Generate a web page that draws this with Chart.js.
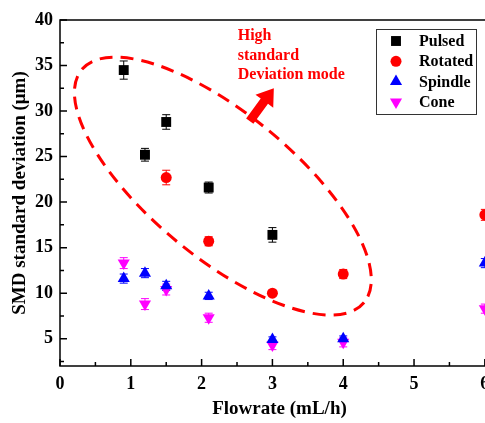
<!DOCTYPE html>
<html>
<head>
<meta charset="utf-8">
<script src="https://cdn.jsdelivr.net/npm/chart.js@4.4.0/dist/chart.umd.min.js"></script>
<style>
html, body { margin: 0; padding: 0; background: #fff; overflow: hidden; }
#wrap { position: relative; width: 510px; height: 423px; }
</style>
</head>
<body>
<div id="wrap"><canvas id="myChart"></canvas></div>
<script>
const serif = '"Liberation Serif", "Times New Roman", serif';

// data
const pulsedX = [0.9, 1.2, 1.5, 2.1, 3];
const pulsedY = [34.5, 25.2, 28.8, 21.6, 16.4];
const pulsedErr = [1.0, 0.7, 0.8, 0.6, 0.8];

const rotatedX = [1.5, 2.1, 3, 4, 6];
const rotatedY = [22.7, 15.7, 10.0, 12.1, 18.6];
const rotatedErr = [0.8, 0.5, 0.3, 0.5, 0.6];

const spindleX = [0.9, 1.2, 1.5, 2.1, 3, 4, 6];
const spindleY = [11.6, 12.2, 10.8, 9.7, 4.9, 5.0, 13.3];
const spindleErr = [0.5, 0.5, 0.5, 0.4, 0.3, 0.3, 0.5];

const coneX = [0.9, 1.2, 1.5, 2.1, 3, 4, 6];
const coneY = [13.3, 8.8, 10.4, 7.3, 4.3, 4.6, 8.3];
const coneErr = [0.6, 0.6, 0.6, 0.5, 0.5, 0.5, 0.5];

const xTickVals = [0, 0.5, 1, 1.5, 2, 2.5, 3, 3.5, 4, 4.5, 5, 5.5, 6];
const yTickVals = [2.5, 5, 7.5, 10, 12.5, 15, 17.5, 20, 22.5, 25, 27.5, 30, 32.5, 35, 37.5, 40];

const noteLines = ['High', 'standard', 'Deviation mode'];

function pts(xs, ys) {
    return xs.map((x, i) => ({ x: x, y: ys[i] }));
}

const decor = {
    id: 'decor',
    beforeDatasetsDraw(chart) {
        const ctx = chart.ctx;
        const xs = chart.scales.x, ys = chart.scales.y;
        ctx.save();
        // dashed ellipse
        ctx.strokeStyle = '#ff0000';
        ctx.lineWidth = 3;
        ctx.setLineDash([13, 8]);
        ctx.beginPath();
        ctx.ellipse(xs.getPixelForValue(2.30), ys.getPixelForValue(21.76), 183, 72, 39.5 * Math.PI / 180, 0, Math.PI * 2);
        ctx.stroke();
        ctx.setLineDash([]);

        // arrow
        const tx = xs.getPixelForValue(2.68), ty = ys.getPixelForValue(28.9);
        const hx = xs.getPixelForValue(3.02), hy = ys.getPixelForValue(32.5);
        const ang = Math.atan2(hy - ty, hx - tx);
        const len = Math.hypot(hx - tx, hy - ty);
        ctx.translate(tx, ty);
        ctx.rotate(ang);
        ctx.fillStyle = '#ff0000';
        ctx.beginPath();
        ctx.moveTo(0, -4.5);
        ctx.lineTo(len - 16, -4.5);
        ctx.lineTo(len - 16, -11);
        ctx.lineTo(len, 0);
        ctx.lineTo(len - 16, 11);
        ctx.lineTo(len - 16, 4.5);
        ctx.lineTo(0, 4.5);
        ctx.closePath();
        ctx.fill();
        ctx.setTransform(1, 0, 0, 1, 0, 0);

        // note text
        ctx.font = 'bold 16px ' + serif;
        ctx.fillStyle = '#ff0000';
        ctx.textAlign = 'left';
        ctx.textBaseline = 'alphabetic';
        const nx = xs.getPixelForValue(2.51);
        noteLines.forEach((t, i) => ctx.fillText(t, nx, 40 + i * 19.5));

        // error bars
        chart.data.datasets.forEach((ds, di) => {
            const meta = chart.getDatasetMeta(di);
            ctx.strokeStyle = ds.borderColor;
            ctx.lineWidth = 1;
            meta.data.forEach((el, i) => {
                const v = ds.data[i].y, e = ds.errors[i];
                const y1 = ys.getPixelForValue(v + e), y2 = ys.getPixelForValue(v - e);
                ctx.beginPath();
                ctx.moveTo(el.x, y1); ctx.lineTo(el.x, y2);
                ctx.moveTo(el.x - 4, y1); ctx.lineTo(el.x + 4, y1);
                ctx.moveTo(el.x - 4, y2); ctx.lineTo(el.x + 4, y2);
                ctx.stroke();
            });
        });
        ctx.restore();
    },
    afterDraw(chart) {
        const ctx = chart.ctx;
        const a = chart.chartArea;
        const xs = chart.scales.x, ys = chart.scales.y;
        ctx.save();
        // frame
        ctx.strokeStyle = '#000';
        ctx.lineWidth = 1.5;
        ctx.strokeRect(a.left, a.top, a.right - a.left, a.bottom - a.top);
        // inward ticks
        ctx.beginPath();
        xTickVals.forEach(v => {
            const px = xs.getPixelForValue(v);
            const l = Number.isInteger(v) ? 7 : 4;
            ctx.moveTo(px, a.bottom); ctx.lineTo(px, a.bottom - l);
        });
        yTickVals.forEach(v => {
            const py = ys.getPixelForValue(v);
            const l = v % 5 === 0 ? 7 : 4;
            ctx.moveTo(a.left, py); ctx.lineTo(a.left + l, py);
        });
        ctx.stroke();

        // legend
        const bx = 376, by = 29, bw = 100, bh = 85;
        ctx.lineWidth = 1;
        ctx.fillStyle = '#fff';
        ctx.fillRect(bx, by, bw, bh);
        ctx.strokeStyle = '#333';
        ctx.strokeRect(bx + 0.5, by + 0.5, bw, bh);
        ctx.font = 'bold 16px ' + serif;
        ctx.textBaseline = 'middle';
        ctx.textAlign = 'left';
        chart.data.datasets.forEach((ds, i) => {
            const yy = by + 12 + i * 20.3;
            ctx.fillStyle = ds.backgroundColor;
            ctx.strokeStyle = ds.borderColor;
            Chart.helpers.drawPoint(ctx, {
                pointStyle: ds.pointStyle,
                rotation: ds.pointRotation || 0,
                radius: ds.pointRadius,
                borderWidth: 0
            }, bx + 20, yy);
            ctx.fillStyle = '#000';
            ctx.fillText(ds.label, bx + 43, yy + 1);
        });
        ctx.restore();
    }
};

const ctx = document.getElementById('myChart').getContext('2d');
const myChart = new Chart(ctx, {
    type: 'scatter',
    data: {
        datasets: [{
            label: 'Pulsed',
            data: pts(pulsedX, pulsedY),
            errors: pulsedErr,
            pointStyle: 'rect',
            pointRadius: 7,
            backgroundColor: '#000000',
            borderColor: '#000000',
            borderWidth: 0
        }, {
            label: 'Rotated',
            data: pts(rotatedX, rotatedY),
            errors: rotatedErr,
            pointStyle: 'circle',
            pointRadius: 5.5,
            backgroundColor: '#ff0000',
            borderColor: '#ff0000',
            borderWidth: 0
        }, {
            label: 'Spindle',
            data: pts(spindleX, spindleY),
            errors: spindleErr,
            pointStyle: 'triangle',
            pointRadius: 7,
            backgroundColor: '#0000ff',
            borderColor: '#0000ff',
            borderWidth: 0
        }, {
            label: 'Cone',
            data: pts(coneX, coneY),
            errors: coneErr,
            pointStyle: 'triangle',
            pointRotation: 180,
            pointRadius: 7,
            backgroundColor: '#ff00ff',
            borderColor: '#ff00ff',
            borderWidth: 0
        }]
    },
    options: {
        responsive: true,
        maintainAspectRatio: false,
        animation: false,
        layout: { padding: { top: 20, right: 11, bottom: 0, left: 0 } },
        plugins: {
            legend: { display: false },
            tooltip: { enabled: false }
        },
        scales: {
            x: {
                type: 'linear',
                min: 0,
                max: 6.2,
                afterBuildTicks: s => { s.ticks = xTickVals.map(v => ({ value: v })); },
                afterFit: s => { s.height = 57; },
                grid: { display: false },
                border: { display: false },
                ticks: {
                    color: '#000',
                    padding: 0,
                    maxRotation: 0,
                    autoSkip: false,
                    font: { family: serif, size: 18, weight: 'bold' },
                    callback: v => Number.isInteger(v) ? v : ''
                },
                title: {
                    display: true,
                    text: 'Flowrate (mL/h)',
                    color: '#000',
                    padding: { top: 0, bottom: 3 },
                    font: { family: serif, size: 19, weight: 'bold' }
                }
            },
            y: {
                min: 2,
                max: 40,
                afterBuildTicks: s => { s.ticks = yTickVals.map(v => ({ value: v })); },
                afterFit: s => { s.width = 60; },
                grid: { display: false },
                border: { display: false },
                ticks: {
                    color: '#000',
                    padding: -1,
                    autoSkip: false,
                    font: { family: serif, size: 18, weight: 'bold' },
                    callback: v => v % 5 === 0 ? v : ''
                },
                title: {
                    display: true,
                    text: 'SMD standard deviation (\u03bcm)',
                    color: '#000',
                    padding: { top: 9, bottom: 0 },
                    font: { family: serif, size: 19, weight: 'bold' }
                }
            }
        }
    },
    plugins: [decor]
});
</script>
</body>
</html>
